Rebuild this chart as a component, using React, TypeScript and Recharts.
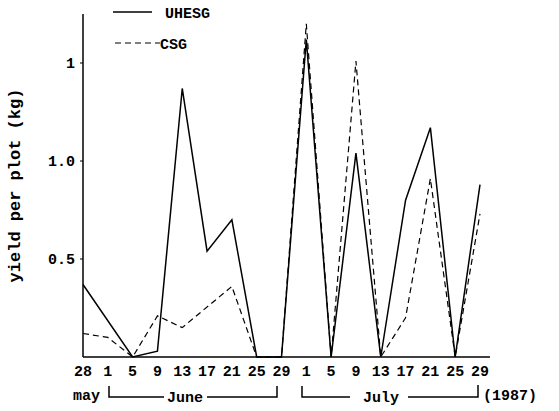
import { LineChart, Line, XAxis, YAxis } from "recharts"

// day labels along the x axis (28 May .. 29 July 1987)
const days = ["28", "1", "5", "9", "13", "17", "21", "25", "29", "1", "5", "9", "13", "17", "21", "25", "29"]
const uhesg = [0.37, null, 0, 0.03, 1.37, 0.54, 0.7, 0, 0, 1.62, 0, 1.04, 0, 0.8, 1.17, 0, 0.88]
const csg = [0.12, 0.1, 0, 0.21, 0.15, null, 0.36, 0, 0, 1.7, 0, 1.51, 0, 0.2, 0.91, 0, 0.73]
const yTicks = [0.5, 1.0, 1.5]
const yTickLabels = ["0.5", "1.0", "1"]

const data = days.map((d, i) => ({ day: d, UHESG: uhesg[i], CSG: csg[i] }))

const font = "'Liberation Mono', 'DejaVu Sans Mono', monospace"

function XTick(props: any) {
  const { x, y, payload } = props
  return (
    <text x={x} y={y + 11} textAnchor="middle" fontFamily={font} fontWeight="bold" fontSize={15} fill="#000">
      {payload.value}
    </text>
  )
}

export default function App() {
  return (
    <div style={{ position: "absolute", left: 0, top: 0, width: 559, height: 411, background: "#fff" }}>
      <LineChart width={559} height={411} data={data} margin={{ top: 14, right: 69, bottom: 24, left: 0 }}>
        <XAxis
          dataKey="day"
          height={30}
          padding={{ left: 0, right: 10 }}
          axisLine={{ stroke: "#000", strokeWidth: 1.5 }}
          tickLine={false}
          interval={0}
          tick={<XTick />}
        />
        <YAxis
          width={83}
          domain={[0, 1.75]}
          ticks={yTicks}
          tickFormatter={(v: number) => yTickLabels[yTicks.indexOf(v)]}
          axisLine={{ stroke: "#000", strokeWidth: 1.5 }}
          tickLine={{ stroke: "#000" }}
          tickSize={3}
          tickMargin={5}
          tick={{ fontFamily: font, fontWeight: "bold", fontSize: 15, fill: "#000" }}
          label={{
            value: "yield per plot (kg)",
            angle: -90,
            position: "insideLeft",
            offset: 14,
            style: { fontFamily: font, fontWeight: "bold", fontSize: 17, fill: "#000", textAnchor: "middle" },
          }}
        />
        <Line
          type="linear"
          dataKey="UHESG"
          stroke="#000"
          strokeWidth={1.5}
          dot={false}
          connectNulls
          isAnimationActive={false}
        />
        <Line
          type="linear"
          dataKey="CSG"
          stroke="#000"
          strokeWidth={1.2}
          strokeDasharray="6 4"
          dot={false}
          connectNulls
          isAnimationActive={false}
        />
      </LineChart>
      <svg width={559} height={411} style={{ position: "absolute", left: 0, top: 0, pointerEvents: "none" }}>
        <line x1={113} y1={12} x2={152} y2={12} stroke="#000" strokeWidth={1.5} />
        <line x1={115} y1={43} x2={160} y2={43} stroke="#000" strokeWidth={1.2} strokeDasharray="6 4" />
        <g fontFamily={font} fontWeight="bold" fontSize={15} fill="#000">
          <text x={165} y={18}>UHESG</text>
          <text x={160} y={49}>CSG</text>
          <text x={73} y={400}>may</text>
          <text x={185} y={402} textAnchor="middle">June</text>
          <text x={381} y={402} textAnchor="middle">July</text>
          <text x={483} y={400}>(1987)</text>
        </g>
        <g stroke="#000" strokeWidth={1.5} fill="none">
          <path d="M109 386 V397 H164" />
          <path d="M207 397 H277 V386" />
          <path d="M302 386 V397 H350" />
          <path d="M408 397 H478 V385" />
        </g>
      </svg>
    </div>
  )
}
